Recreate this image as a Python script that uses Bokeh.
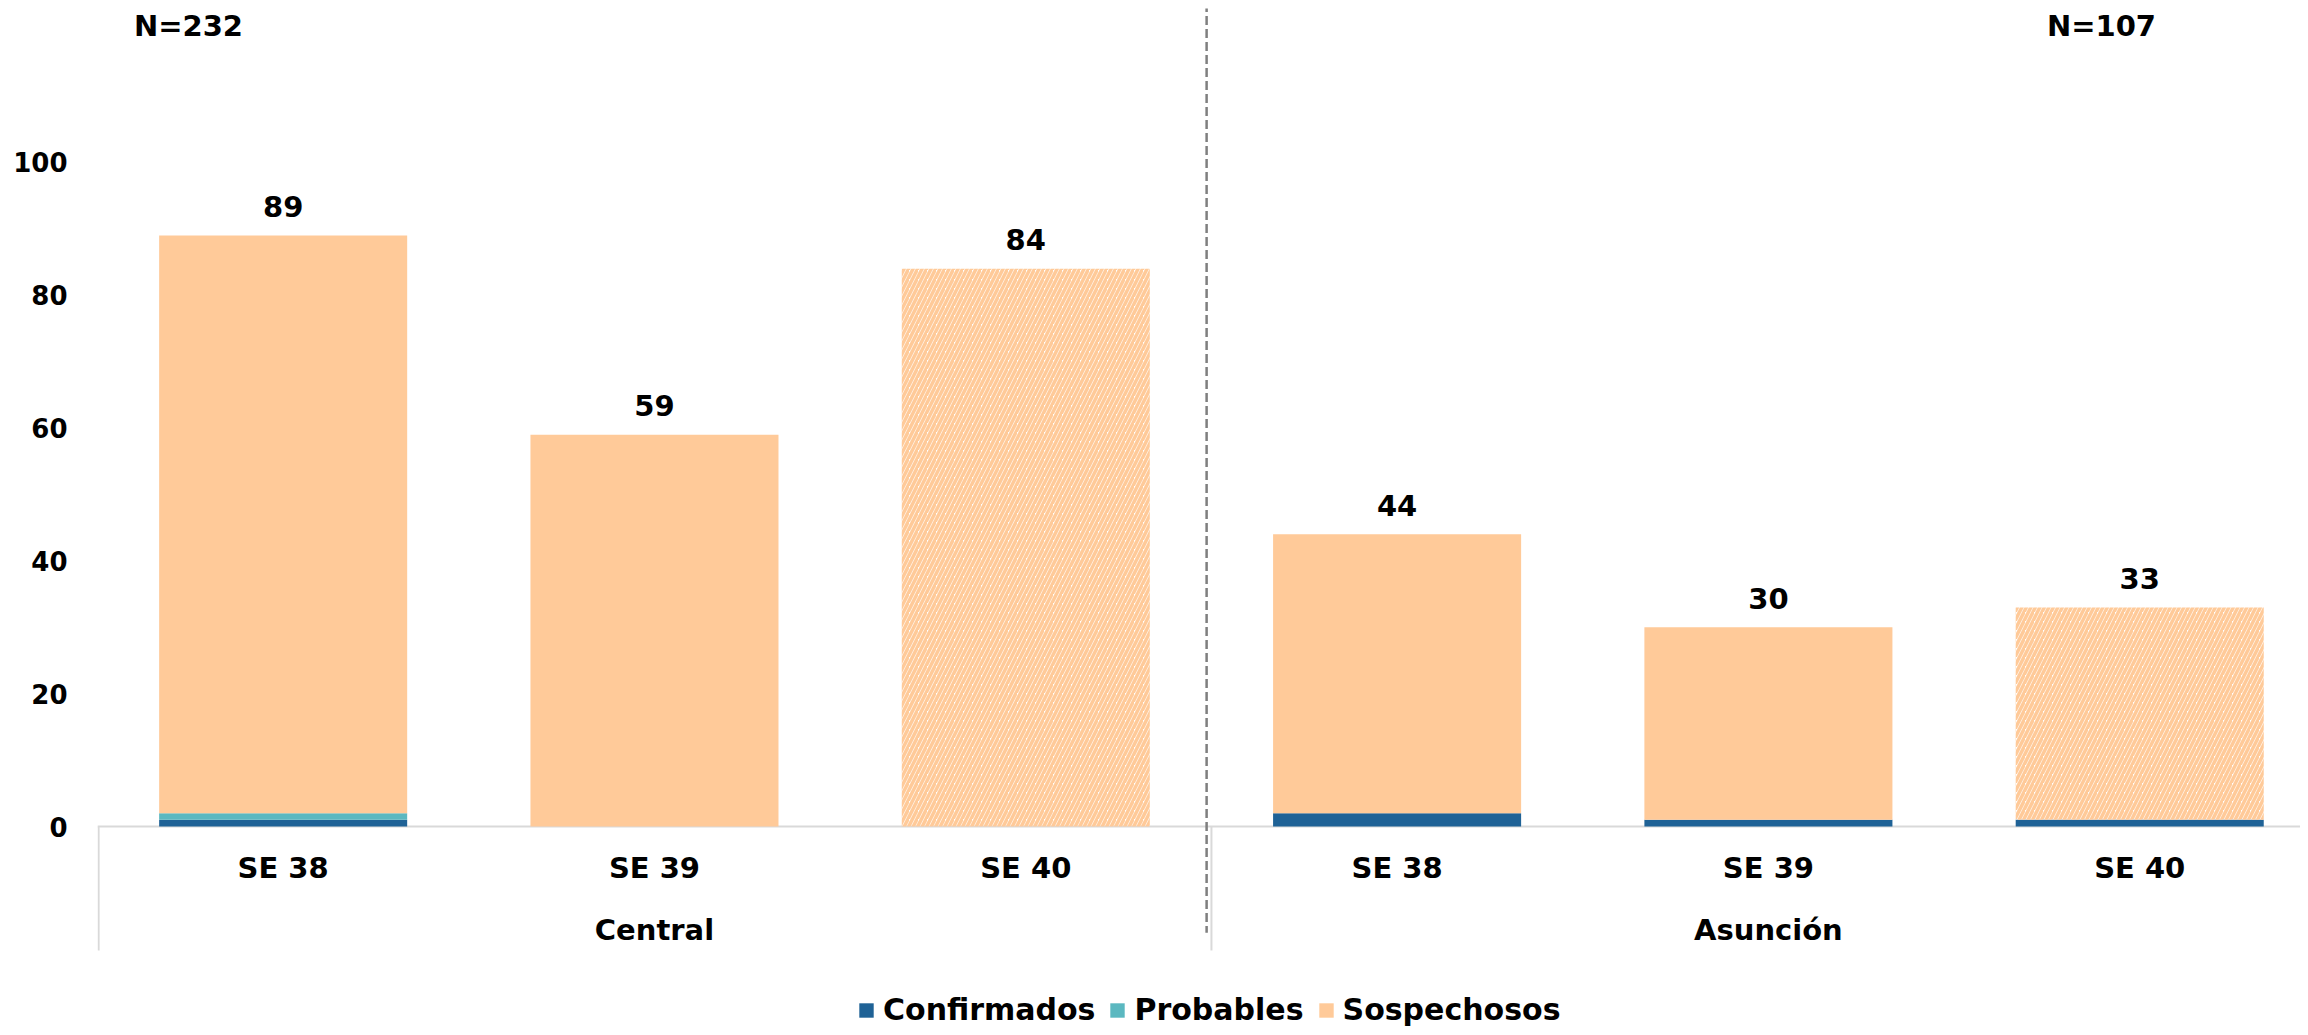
from bokeh.plotting import figure
from bokeh.models import Range1d, FixedTicker, ColumnDataSource, Legend, LegendItem
from bokeh.core.properties import value
from bokeh.embed import file_html
from bokeh.resources import INLINE

# ---- data ----
groups = ["Central", "Asunción"]
group_n = ["N=232", "N=107"]
weeks = ["SE 38", "SE 39", "SE 40", "SE 38", "SE 39", "SE 40"]
confirmados = [1, 0, 0, 2, 1, 1]
probables = [1, 0, 0, 0, 0, 0]
sospechosos = [87, 59, 84, 42, 29, 32]
totales = [89, 59, 84, 44, 30, 33]
parcial = [False, False, True, False, False, True]   # SE 40: hatched (incomplete week)
y_ticks = [0, 20, 40, 60, 80, 100]

C_CONF = "#1F6296"
C_PROB = "#5BB8C0"
C_SOSP = "#FFCA99"
FONT = "DejaVu Sans"

xs = [i + 0.5 for i in range(len(weeks))]
c_top = [c for c in confirmados]
p_top = [c + p for c, p in zip(confirmados, probables)]
s_top = [pt + s for pt, s in zip(p_top, sospechosos)]

src = ColumnDataSource(dict(x=xs, c0=[0] * len(xs), c1=c_top, p1=p_top, s1=s_top,
                            tot=[str(t) for t in totales], week=weeks))
solid = [i for i, f in enumerate(parcial) if not f]
hatch = [i for i, f in enumerate(parcial) if f]
src_solid = ColumnDataSource(dict(x=[xs[i] for i in solid], b=[p_top[i] for i in solid],
                                  t=[s_top[i] for i in solid]))
src_hatch = ColumnDataSource(dict(x=[xs[i] for i in hatch], b=[p_top[i] for i in hatch],
                                  t=[s_top[i] for i in hatch]))

p = figure(width=2300, height=1027, output_backend="svg", toolbar_location=None,
           x_range=Range1d(0, 5.933), y_range=Range1d(-30.27, 123.19),
           min_border_left=97, min_border_right=0, min_border_top=8, min_border_bottom=0)
p.outline_line_color = None
p.xgrid.visible = False
p.ygrid.visible = False
p.xaxis.visible = False
p.background_fill_color = "white"

ax = p.yaxis[0]
ax.ticker = FixedTicker(ticks=y_ticks)
ax.axis_line_color = None
ax.major_tick_line_color = None
ax.minor_tick_line_color = None
ax.major_label_standoff = 24
ax.major_label_text_font = FONT
ax.major_label_text_font_size = "26px"
ax.major_label_text_font_style = "bold"
ax.major_label_text_color = "black"

# baseline and group boundaries
p.segment(x0=[0], y0=[0], x1=[6], y1=[0], line_color="#D9D9D9", line_width=2)
p.segment(x0=[0.003, 3.0], y0=[0, 0], x1=[0.003, 3.0], y1=[-18.67, -18.67],
          line_color="#D9D9D9", line_width=2)
p.segment(x0=[2.987], y0=[124], x1=[2.987], y1=[-16.0], line_color="#7F7F7F",
          line_width=2.5, line_dash="9 4")

W = 0.668
r_c = p.vbar(x="x", bottom="c0", top="c1", width=W, source=src, fill_color=C_CONF, line_color=None)
r_p = p.vbar(x="x", bottom="c1", top="p1", width=W, source=src, fill_color=C_PROB, line_color=None)
r_s = p.vbar(x="x", bottom="b", top="t", width=W, source=src_solid, fill_color=C_SOSP, line_color=None)
p.vbar(x="x", bottom="b", top="t", width=W, source=src_hatch, fill_color=None, line_color=None,
       hatch_pattern="/", hatch_color=C_SOSP, hatch_scale=9, hatch_weight=3.5)

# value labels
p.text(x="x", y="s1", text="tot", source=src, text_align="center", text_baseline="middle",
       y_offset=-29, text_font=value(FONT), text_font_style="bold", text_font_size="29px",
       text_color="black")
# week labels
p.text(x="x", y=-6.3, text="week", source=src, text_align="center", text_baseline="middle",
       text_font=value(FONT), text_font_style="bold", text_font_size="29px", text_color="black")
# group labels
p.text(x=[1.5, 4.5], y=[-15.6, -15.6], text=groups, text_align="center", text_baseline="middle",
       text_font=value(FONT), text_font_style="bold", text_font_size="29px", text_color="black")
# N labels
p.text(x=[0.245, 5.397], y=[120.6, 120.6], text=group_n, text_align="center", text_baseline="middle",
       text_font=value(FONT), text_font_style="bold", text_font_size="29px", text_color="black")

legend = Legend(items=[LegendItem(label="Confirmados", renderers=[r_c]),
                       LegendItem(label="Probables", renderers=[r_p]),
                       LegendItem(label="Sospechosos", renderers=[r_s])],
                orientation="horizontal", location=(760, 0))
legend.border_line_color = None
legend.background_fill_alpha = 0
legend.padding = 0
legend.margin = 0
legend.spacing = 13
legend.glyph_width = 18
legend.glyph_height = 18
legend.label_standoff = 8
legend.label_text_font = FONT
legend.label_text_font_style = "bold"
legend.label_text_font_size = "30px"
legend.label_text_color = "black"
p.add_layout(legend)

open("out.html", "w").write(file_html(p, INLINE))
